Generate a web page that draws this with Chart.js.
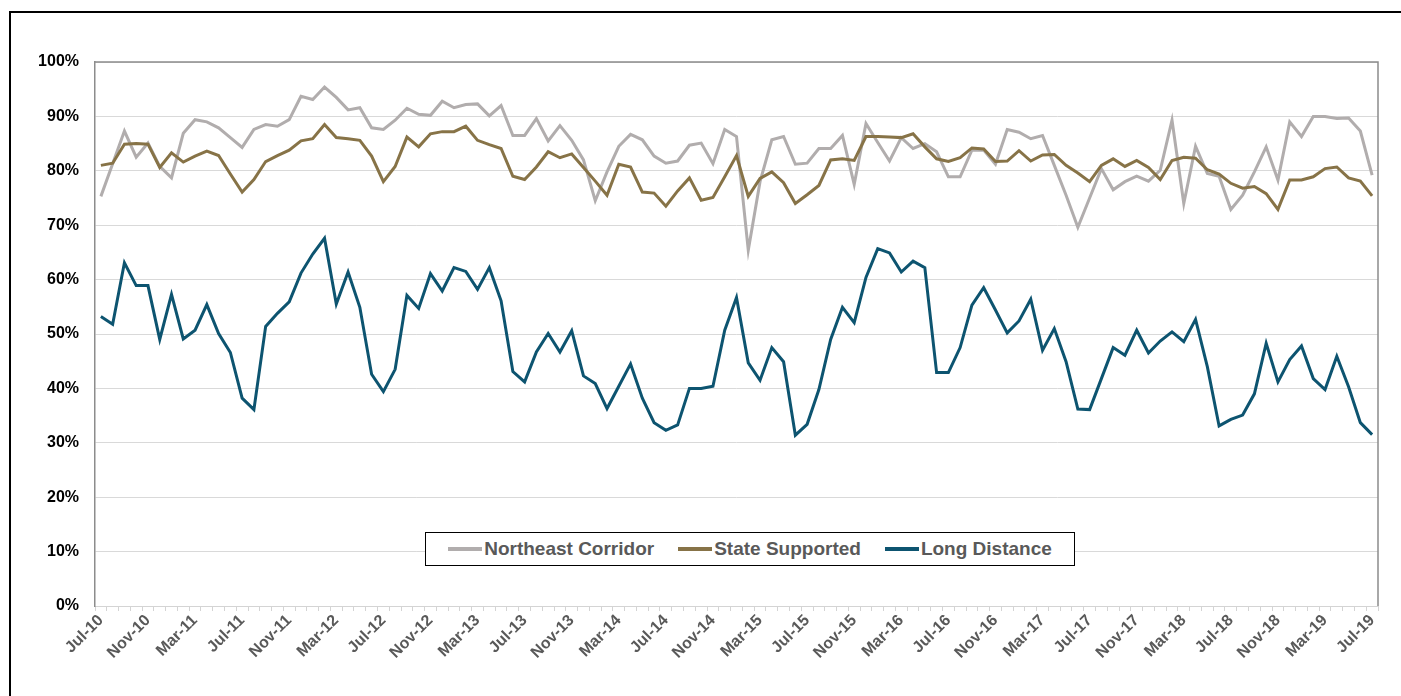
<!DOCTYPE html>
<html>
<head>
<meta charset="utf-8">
<script src="https://cdn.jsdelivr.net/npm/chart.js@4.4.1/dist/chart.umd.min.js"></script>
<style>
    html, body { margin: 0; padding: 0; background: #fff; }
    body { width: 1401px; height: 696px; position: relative; overflow: hidden; font-family: "Liberation Sans", Arial, sans-serif; }
    .frame { position: absolute; left: 9px; top: 11px; width: 1400px; height: 700px; border: 2px solid #000; box-sizing: border-box; }
    .chart-box { position: absolute; left: 0; top: 0; width: 1401px; height: 696px; }
    .legend { position: absolute; left: 425px; top: 532px; width: 650px; height: 34px; box-sizing: border-box; border: 1px solid #000; background: #fff; display: flex; align-items: center; justify-content: center; gap: 24px; }
    .legend-item { display: flex; align-items: center; font-size: 19px; font-weight: bold; color: #595959; }
    .legend-swatch { width: 34px; height: 4px; margin-right: 2px; }
</style>
</head>
<body>
<div class="frame"></div>
<div class="chart-box"><canvas id="ridership-chart"></canvas></div>
<div class="legend" id="chart-legend"></div>
<script>
const months = [
    'Jul-10', 'Aug-10', 'Sep-10', 'Oct-10', 'Nov-10', 'Dec-10',
    'Jan-11', 'Feb-11', 'Mar-11', 'Apr-11', 'May-11', 'Jun-11', 'Jul-11', 'Aug-11', 'Sep-11', 'Oct-11', 'Nov-11', 'Dec-11',
    'Jan-12', 'Feb-12', 'Mar-12', 'Apr-12', 'May-12', 'Jun-12', 'Jul-12', 'Aug-12', 'Sep-12', 'Oct-12', 'Nov-12', 'Dec-12',
    'Jan-13', 'Feb-13', 'Mar-13', 'Apr-13', 'May-13', 'Jun-13', 'Jul-13', 'Aug-13', 'Sep-13', 'Oct-13', 'Nov-13', 'Dec-13',
    'Jan-14', 'Feb-14', 'Mar-14', 'Apr-14', 'May-14', 'Jun-14', 'Jul-14', 'Aug-14', 'Sep-14', 'Oct-14', 'Nov-14', 'Dec-14',
    'Jan-15', 'Feb-15', 'Mar-15', 'Apr-15', 'May-15', 'Jun-15', 'Jul-15', 'Aug-15', 'Sep-15', 'Oct-15', 'Nov-15', 'Dec-15',
    'Jan-16', 'Feb-16', 'Mar-16', 'Apr-16', 'May-16', 'Jun-16', 'Jul-16', 'Aug-16', 'Sep-16', 'Oct-16', 'Nov-16', 'Dec-16',
    'Jan-17', 'Feb-17', 'Mar-17', 'Apr-17', 'May-17', 'Jun-17', 'Jul-17', 'Aug-17', 'Sep-17', 'Oct-17', 'Nov-17', 'Dec-17',
    'Jan-18', 'Feb-18', 'Mar-18', 'Apr-18', 'May-18', 'Jun-18', 'Jul-18', 'Aug-18', 'Sep-18', 'Oct-18', 'Nov-18', 'Dec-18',
    'Jan-19', 'Feb-19', 'Mar-19', 'Apr-19', 'May-19', 'Jun-19', 'Jul-19',
];

const tickLabels = [
    'Jul-10', 'Nov-10', 'Mar-11', 'Jul-11', 'Nov-11', 'Mar-12', 'Jul-12', 'Nov-12', 'Mar-13', 'Jul-13',
    'Nov-13', 'Mar-14', 'Jul-14', 'Nov-14', 'Mar-15', 'Jul-15', 'Nov-15', 'Mar-16', 'Jul-16', 'Nov-16',
    'Mar-17', 'Jul-17', 'Nov-17', 'Mar-18', 'Jul-18', 'Nov-18', 'Mar-19', 'Jul-19',
];

const northeastCorridor = [
    75.3, 81.3, 87.3, 82.5, 85.1, 80.8, 78.7, 86.9, 89.4, 89.0, 87.9, 86.1,
    84.3, 87.6, 88.5, 88.2, 89.4, 93.7, 93.1, 95.4, 93.5, 91.2, 91.6, 87.9,
    87.6, 89.3, 91.5, 90.4, 90.2, 92.8, 91.6, 92.2, 92.3, 90.1, 92.0, 86.5,
    86.5, 89.6, 85.5, 88.3, 85.6, 82.0, 74.5, 79.8, 84.5, 86.7, 85.7, 82.7,
    81.4, 81.8, 84.7, 85.1, 81.3, 87.6, 86.3, 65.4, 78.0, 85.7, 86.3, 81.2,
    81.4, 84.1, 84.1, 86.5, 77.5, 88.7, 85.2, 81.8, 86.1, 84.1, 85.0, 83.5,
    78.9, 78.9, 83.8, 83.8, 81.2, 87.6, 87.1, 85.9, 86.5, 81.0, 75.5, 69.6,
    75.0, 80.4, 76.5, 78.0, 79.0, 78.1, 80.1, 89.3, 74.0, 84.5, 79.5, 79.0,
    72.9, 75.5, 79.8, 84.4, 78.3, 89.0, 86.3, 90.0, 90.0, 89.6, 89.7, 87.3,
    79.2,
];

const stateSupported = [
    81.0, 81.4, 84.9, 85.0, 84.9, 80.6, 83.3, 81.6, 82.7, 83.6, 82.8, 79.4,
    76.1, 78.4, 81.7, 82.8, 83.8, 85.5, 85.9, 88.5, 86.1, 85.9, 85.6, 82.7,
    78.0, 80.8, 86.2, 84.4, 86.8, 87.2, 87.2, 88.2, 85.6, 84.8, 84.1, 79.0,
    78.4, 80.7, 83.5, 82.4, 83.1, 80.6, 78.1, 75.5, 81.2, 80.7, 76.1, 75.9,
    73.5, 76.3, 78.7, 74.6, 75.1, 78.9, 82.8, 75.3, 78.6, 79.8, 77.8, 74.0,
    75.6, 77.3, 82.0, 82.2, 81.9, 86.3, 86.3, 86.2, 86.1, 86.8, 84.4, 82.2,
    81.7, 82.4, 84.2, 84.0, 81.7, 81.8, 83.7, 81.8, 82.9, 83.0, 81.0, 79.6,
    78.0, 81.0, 82.2, 80.8, 81.9, 80.6, 78.4, 81.9, 82.5, 82.3, 80.2, 79.4,
    77.7, 76.8, 77.1, 75.8, 72.9, 78.3, 78.3, 78.9, 80.4, 80.7, 78.7, 78.1,
    75.4,
];

const longDistance = [
    53.2, 51.8, 63.1, 58.9, 58.9, 49.0, 57.3, 49.1, 50.7, 55.4, 50.1, 46.6,
    38.2, 36.1, 51.4, 53.8, 55.9, 61.2, 64.7, 67.6, 55.5, 61.4, 54.9, 42.6,
    39.4, 43.5, 57.1, 54.7, 61.1, 57.9, 62.2, 61.5, 58.2, 62.2, 56.1, 43.1,
    41.2, 46.7, 50.1, 46.7, 50.6, 42.3, 40.9, 36.3, 40.4, 44.5, 38.2, 33.7,
    32.3, 33.3, 40.0, 40.0, 40.4, 50.7, 56.7, 44.7, 41.5, 47.5, 44.9, 31.4,
    33.4, 39.8, 49.0, 54.9, 52.1, 60.4, 65.7, 64.9, 61.4, 63.4, 62.2, 42.9,
    42.9, 47.5, 55.3, 58.5, 54.4, 50.2, 52.4, 56.4, 47.0, 51.0, 44.9, 36.2,
    36.1, 41.8, 47.5, 46.1, 50.7, 46.5, 48.7, 50.4, 48.6, 52.7, 44.0, 33.1,
    34.3, 35.1, 39.0, 48.3, 41.2, 45.3, 47.8, 41.8, 39.8, 45.9, 40.3, 33.7,
    31.5,
];

const seriesNames = ['Northeast Corridor', 'State Supported', 'Long Distance'];
const seriesColors = ['#b1adad', '#877347', '#0d5470'];

const FONT = '"Liberation Sans", Arial, sans-serif';

// top and right edges of the plot frame
const plotFrame = {
    id: 'plotFrame',
    afterDraw(chart) {
        const { ctx, chartArea } = chart;
        ctx.save();
        ctx.strokeStyle = '#8c8c8c';
        ctx.lineWidth = 1.5;
        ctx.beginPath();
        ctx.moveTo(chartArea.left, chartArea.top);
        ctx.lineTo(chartArea.right, chartArea.top);
        ctx.lineTo(chartArea.right, chartArea.bottom);
        ctx.stroke();
        ctx.restore();
    },
};

const series = [northeastCorridor, stateSupported, longDistance];

const chart = new Chart(document.getElementById('ridership-chart'), {
    type: 'line',
    data: {
        labels: months,
        datasets: series.map((values, i) => ({
            label: seriesNames[i],
            data: values,
            borderColor: seriesColors[i],
            backgroundColor: seriesColors[i],
            borderWidth: 3,
            pointRadius: 0,
            tension: 0,
            order: 3 - i,
        })),
    },
    options: {
        responsive: true,
        maintainAspectRatio: false,
        animation: false,
        layout: { padding: { left: 0, top: 62, right: 23, bottom: 0 } },
        plugins: {
            legend: { display: false },
            tooltip: { enabled: false },
        },
        scales: {
            x: {
                offset: true,
                afterFit(scale) { scale.height = 90; },
                grid: {
                    offset: true,
                    drawOnChartArea: false,
                    drawTicks: true,
                    tickLength: 5,
                    color: '#d4d4d4',
                },
                border: { color: '#d4d4d4', width: 1 },
                ticks: {
                    autoSkip: false,
                    minRotation: 45,
                    maxRotation: 45,
                    padding: 0,
                    color: '#595959',
                    font: { family: FONT, size: 16, weight: 'bold' },
                    callback(value, index) {
                        const label = months[index];
                        return tickLabels.includes(label) ? label : '';
                    },
                },
            },
            y: {
                min: 0,
                max: 100,
                afterFit(scale) { scale.width = 95; },
                grid: { color: '#d9d9d9', drawTicks: false },
                border: { color: '#8c8c8c', width: 1.5 },
                ticks: {
                    stepSize: 10,
                    padding: 16,
                    color: '#000',
                    font: { family: FONT, size: 16, weight: 'bold' },
                    callback: value => `${value}%`,
                },
            },
        },
    },
    plugins: [plotFrame],
});

// legend drawn as html so it can sit inside the plot with a box
document.getElementById('chart-legend').innerHTML = chart.data.datasets.map(ds => `
    <div class="legend-item"><span class="legend-swatch" style="background:${ds.borderColor}"></span>${ds.label}</div>
`).join('');
</script>
</body>
</html>
